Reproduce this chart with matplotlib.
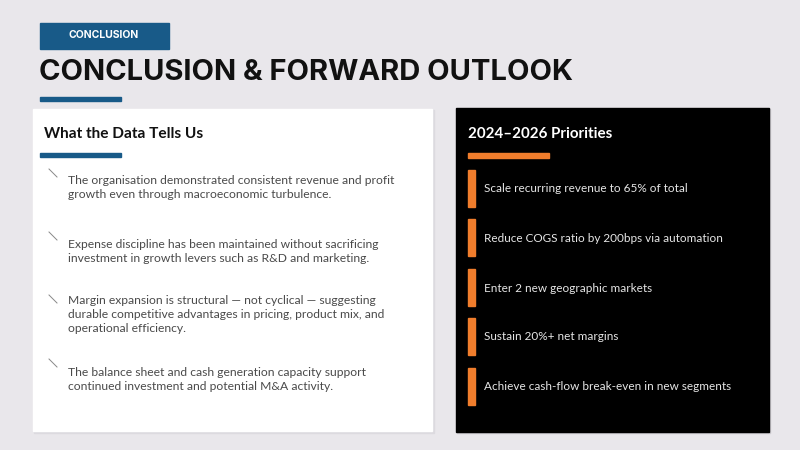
import matplotlib
matplotlib.use("Agg")
import matplotlib.pyplot as plt
from matplotlib.patches import Rectangle

plt.rcParams['font.family'] = ['Inter', 'DejaVu Sans']

# slide content
tag = "CONCLUSION"
title = "CONCLUSION & FORWARD OUTLOOK"
left_head = "What the Data Tells Us"
findings = [
    "The organisation demonstrated consistent revenue and profit\ngrowth even through macroeconomic turbulence.",
    "Expense discipline has been maintained without sacrificing\ninvestment in growth levers such as R&D and marketing.",
    "Margin expansion is structural \u2014 not cyclical \u2014 suggesting\ndurable competitive advantages in pricing, product mix, and\noperational efficiency.",
    "The balance sheet and cash generation capacity support\ncontinued investment and potential M&A activity.",
]
finding_y = [174, 238, 294, 366]
slash_y = [173, 236, 299, 363]
right_head = "2024\u20132026 Priorities"
priorities = [
    "Scale recurring revenue to 65% of total",
    "Reduce COGS ratio by 200bps via automation",
    "Enter 2 new geographic markets",
    "Sustain 20%+ net margins",
    "Achieve cash-flow break-even in new segments",
]
priority_y = [189, 238, 288, 337, 387]

blue = "#185a88"
orange = "#f07d2c"
bg = "#e9e7eb"
body = ['Lato', 'DejaVu Sans']

fig = plt.figure(figsize=(8, 4.5), dpi=100)
fig.patch.set_facecolor(bg)
ax = fig.add_axes([0, 0, 1, 1])
ax.set_xlim(0, 800)
ax.set_ylim(450, 0)
ax.axis("off")

# header
ax.add_patch(Rectangle((40, 23), 129, 26, color=blue))
ax.text(104, 35, tag, color="white", fontsize=7.5, fontweight="bold", ha="center", va="center")
ax.text(39, 72, title, color="#111111", fontsize=21, fontweight="bold", va="center")
ax.add_patch(Rectangle((40, 97), 81, 4, color=blue))

# left card
ax.add_patch(Rectangle((34, 110), 400, 323, color="#dcdadf"))
ax.add_patch(Rectangle((33, 109), 399, 322, color="white"))
ax.text(44, 134, left_head, color="#111111", fontsize=11.1, fontweight="bold", va="center", family=body)
ax.add_patch(Rectangle((40, 153), 81, 4, color=blue))
for txt, y, sy in zip(findings, finding_y, slash_y):
    ax.plot([49, 57], [sy - 4, sy + 4], color="#888888", lw=0.7)
    ax.text(68, y + 1, txt, color="#4a4a4a", fontsize=8.7, va="top", linespacing=1.33, family=body)

# right card
ax.add_patch(Rectangle((457, 109), 313, 324, color="#cfcdd1"))
ax.add_patch(Rectangle((456, 108), 313, 324, color="black"))
ax.text(468, 134, right_head, color="white", fontsize=10.9, fontweight="bold", va="center", family=body)
ax.add_patch(Rectangle((468, 153), 81, 5, color=orange))
for txt, y in zip(priorities, priority_y):
    ax.add_patch(Rectangle((468, y - 19), 7, 37, color=orange))
    ax.text(484, y, txt, color="#e6e6e6", fontsize=8.5, va="center", family=body)

fig.savefig("out.png", dpi=100, facecolor=bg)
